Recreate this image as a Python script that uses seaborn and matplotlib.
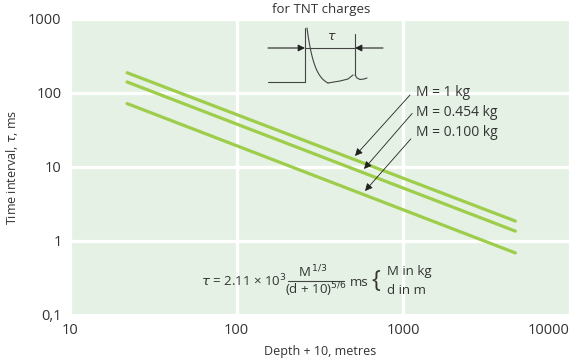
import numpy as np
import pandas as pd
import matplotlib
matplotlib.use("Agg")
import matplotlib.pyplot as plt
import seaborn as sns
from matplotlib.lines import Line2D
from matplotlib.ticker import FixedLocator, NullLocator

# ---- data ----
depth_plus_10 = [22, 4700]
tau_m1 = [188, 1.86]
tau_m0454 = [141, 1.36]
tau_m0100 = [72, 0.69]
series_labels = ["M = 1 kg", "M = 0.454 kg", "M = 0.100 kg"]
x_ticks = [10, 100, 1000, 10000]
x_ticklabels = ["10", "100", "1000", "10000"]
y_ticks = [0.1, 1, 10, 100, 1000]
y_ticklabels = ["0,1", "1", "10", "100", "1000"]
# arrow heads (on lines) and tails (near labels), data coords
arrow_heads = [(513, 14.1), (581, 9.4), (589, 4.74)]
arrow_tails = [(1097, 94), (1130, 53), (1110, 24)]

df = pd.DataFrame({
    "depth": depth_plus_10 * 3,
    "tau": tau_m1 + tau_m0454 + tau_m0100,
    "M": [series_labels[0]] * 2 + [series_labels[1]] * 2 + [series_labels[2]] * 2,
})

sns.set_theme(style="white")
plt.rcParams["font.family"] = ["Open Sans", "DejaVu Sans"]
plt.rcParams["mathtext.fontset"] = "dejavusans"

W, H = 572, 361
fig = plt.figure(figsize=(W / 100, H / 100), dpi=100)
ax = fig.add_axes([70 / W, 1 - 315 / H, 500 / W, 296 / H])
ax.set_facecolor("#e4f1e4")

line_col = "#9dcd4a"
sns.lineplot(data=df, x="depth", y="tau", hue="M", palette=[line_col] * 3,
             linewidth=2.3, legend=False, ax=ax, zorder=3)

ax.set_xscale("log")
ax.set_yscale("log")
ax.set_xlim(10, 10000)
ax.set_ylim(0.1, 1000)
ax.xaxis.set_major_locator(FixedLocator(x_ticks))
ax.yaxis.set_major_locator(FixedLocator(y_ticks))
ax.xaxis.set_minor_locator(NullLocator())
ax.yaxis.set_minor_locator(NullLocator())
ax.set_xticklabels(x_ticklabels)
ax.set_yticklabels(y_ticklabels)
ax.tick_params(axis="both", length=0, labelsize=10.5, colors="#333333", pad=6)
xl = ax.get_xticklabels()
xl[-1].set_horizontalalignment("right")
xl[-1].set_x(xl[-1].get_position()[0])
ax.grid(True, which="major", color="white", linewidth=2.4)
ax.set_axisbelow(True)
for s in ax.spines.values():
    s.set_visible(False)

ax.set_xlabel("Depth + 10, metres", fontsize=9, color="#333333", labelpad=5)
ax.set_ylabel(r"Time interval, $\tau$, ms", fontsize=9, color="#333333", labelpad=6)

def P(x, y):
    return (x / W, 1 - y / H)

tf = fig.transFigure
txt = "#333333"

fig.text(*P(321, 9), "for TNT charges", ha="center", va="center", fontsize=9.5, color=txt)

# series labels with arrows
label_y = [93, 113, 132]
for lab, ly, head, tail in zip(series_labels, label_y, arrow_heads, arrow_tails):
    fig.text(*P(416, ly), lab, ha="left", va="center", fontsize=10, color=txt)
    ax.annotate("", xy=head, xytext=tail, xycoords="data", textcoords="data",
                arrowprops=dict(arrowstyle="-|>", color="#222222", lw=0.6,
                                mutation_scale=11, shrinkA=0, shrinkB=0),
                zorder=5)

# pulse inset diagram (decoration)
def fline(xs, ys, **kw):
    pts = [P(x, y) for x, y in zip(xs, ys)]
    fig.add_artist(Line2D([p[0] for p in pts], [p[1] for p in pts],
                          transform=tf, color="#444444", lw=0.8, **kw))

fline([268, 305, 305], [82, 82, 28])
t = np.linspace(0, 1, 40)
decay = np.exp(-2.7 * t)
decay = (decay - decay[-1]) / (1 - decay[-1])
fline(list(307 + 21 * t), list(83 - 55 * decay))
fline([328, 340, 348, 353], [83, 81, 79, 75])
fline([355, 355], [34, 75])
fline([355, 357, 360, 364, 367], [75, 78, 79.5, 79, 78])
fline([305, 355], [48, 48])
ah = dict(arrowstyle="-|>", color="#222222", lw=0.8, mutation_scale=10, shrinkA=0, shrinkB=0)
fig.add_artist(matplotlib.patches.FancyArrowPatch(P(268, 48), P(305, 48), transform=tf, **ah))
fig.add_artist(matplotlib.patches.FancyArrowPatch(P(383, 48), P(355, 48), transform=tf, **ah))
fig.text(*P(332, 37), r"$\tau$", ha="center", va="center", fontsize=9, color=txt)

# formula
fs = 9.5
fig.text(*P(201, 281), r"$\tau$ = 2.11 × 10$^{3}$", ha="left", va="center", fontsize=fs, color=txt)
fig.text(*P(313, 272), r"M$^{\,1/3}$", ha="center", va="center", fontsize=fs, color=txt)
fline([288, 344], [280.5, 280.5])
fig.text(*P(316, 290), r"(d + 10)$^{5/6}$", ha="center", va="center", fontsize=fs, color=txt)
fig.text(*P(350, 282), "ms", ha="left", va="center", fontsize=fs, color=txt)
fig.text(*P(371, 281), "{", ha="left", va="center", fontsize=17, color=txt)
fig.text(*P(387, 272), "M in kg", ha="left", va="center", fontsize=fs, color=txt)
fig.text(*P(387, 290), "d in m", ha="left", va="center", fontsize=fs, color=txt)

fig.savefig("out.png", dpi=100)
